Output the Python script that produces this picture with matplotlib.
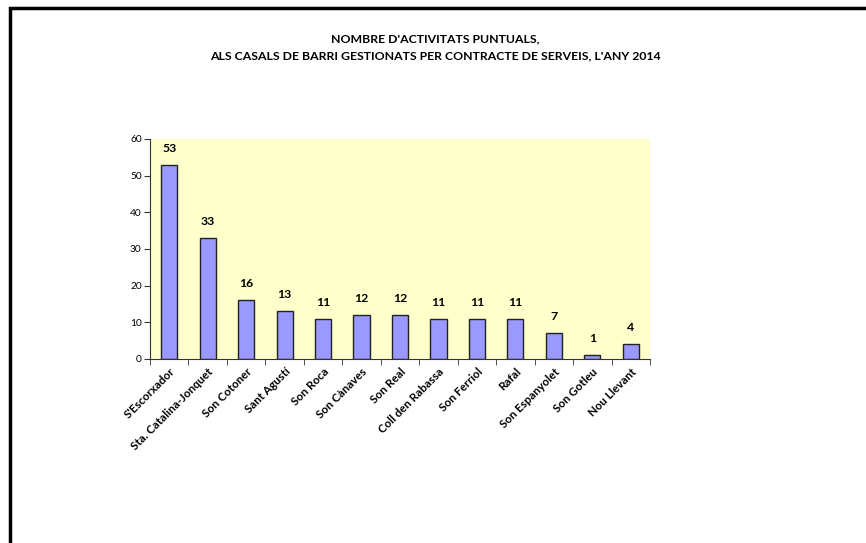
import numpy as np
from matplotlib import pyplot as plt
from matplotlib.patches import Rectangle

categories = ["S'Escorxador", 'Sta. Catalina-Jonquet', 'Son Cotoner', 'Sant Agustí',
              'Son Roca', 'Son Cànaves', 'Son Real', 'Coll den Rabassa', 'Son Ferriol',
              'Rafal', 'Son Espanyolet', 'Son Gotleu', 'Nou Llevant']
values = [53, 33, 16, 13, 11, 12, 12, 11, 11, 11, 7, 1, 4]
yticks = [0, 10, 20, 30, 40, 50, 60]

plt.rcParams['font.family'] = ['Lato', 'DejaVu Sans']

fig = plt.figure(figsize=(8.66, 5.43), dpi=100)
W, H = 866, 543
ax = fig.add_axes([150 / W, 1 - 359 / H, 500 / W, 220 / H])

# outer frame
fig.patches.append(Rectangle((9.5 / W, -0.1), 1.0, 1 - 7.5 / H + 0.1, transform=fig.transFigure,
                             fill=False, edgecolor='black', linewidth=2.5))

x_pos = np.arange(len(categories))
ax.bar(x_pos, values, width=0.42, color='#9999FF', edgecolor='#222222', linewidth=1)
ax.set_facecolor('#FFFFCC')
ax.set_xlim(-0.5, len(categories) - 0.5)
ax.set_ylim(0, 60)
ax.set_yticks(yticks)
ax.set_yticklabels([str(t) for t in yticks], fontsize=7.3)
ax.set_xticks(x_pos)
ax.set_xticklabels(categories, rotation=45, ha='right', rotation_mode='anchor',
                   fontsize=8.3, fontweight='bold')
ax.set_xticks(np.arange(-0.5, len(categories), 1), minor=True)
ax.tick_params(axis='x', which='major', length=0, pad=5)
ax.tick_params(axis='x', which='minor', length=4, direction='out', color='#333333')
ax.tick_params(axis='y', length=4, direction='out', color='#333333', pad=2)

for s in ['top', 'right']:
    ax.spines[s].set_visible(False)
for s in ['left', 'bottom']:
    ax.spines[s].set_color('#333333')
    ax.spines[s].set_linewidth(0.8)

for i, v in enumerate(values):
    ax.text(i, v + 3, str(v), ha='center', va='bottom', fontsize=8.8, fontweight='bold')

fig.text(0.503, 1 - 39 / H, "NOMBRE D'ACTIVITATS PUNTUALS,", ha='center', va='center',
         fontsize=8.8, fontweight='bold')
fig.text(0.503, 1 - 56 / H, "ALS CASALS DE BARRI GESTIONATS PER CONTRACTE DE SERVEIS, L'ANY 2014",
         ha='center', va='center', fontsize=8.8, fontweight='bold')

plt.savefig('out.png', dpi=100)
plt.close()
